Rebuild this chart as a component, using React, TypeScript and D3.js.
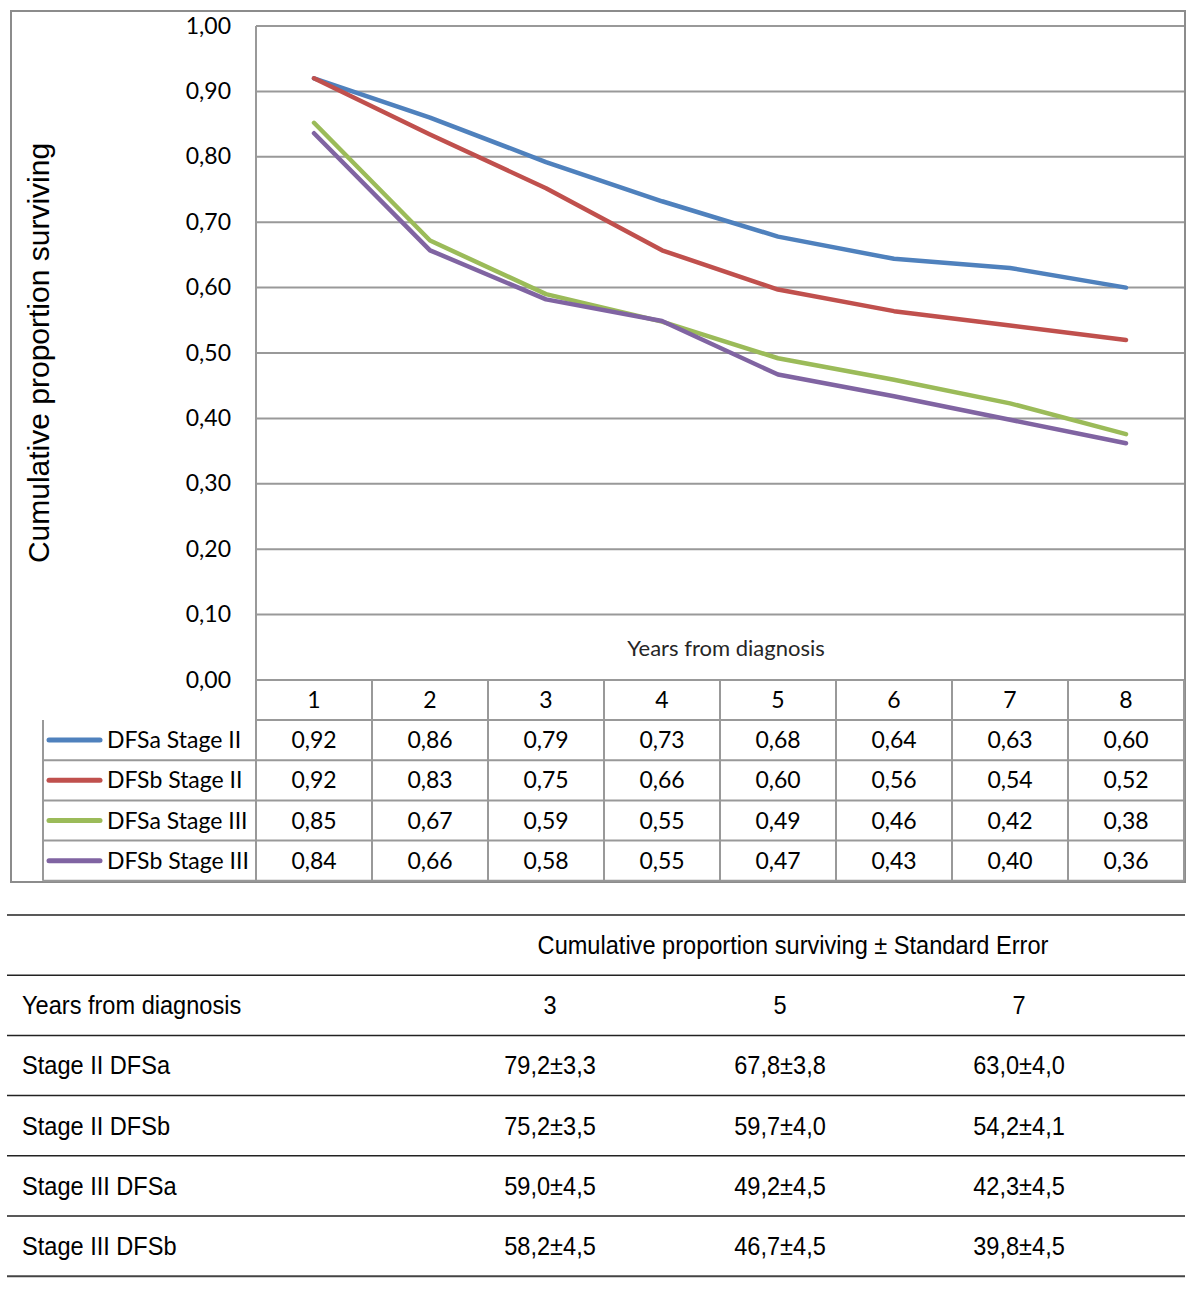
import React from "react";
import * as d3 from "d3";

const years = [1, 2, 3, 4, 5, 6, 7, 8];
const seriesNames = ["DFSa Stage II", "DFSb Stage II", "DFSa Stage III", "DFSb Stage III"];
const seriesColors = ["#4F81BD", "#C0504D", "#9BBB59", "#8064A2"];
const dfsaStage2 = [0.92, 0.86, 0.792, 0.732, 0.678, 0.644, 0.63, 0.6];
const dfsbStage2 = [0.92, 0.834, 0.752, 0.657, 0.597, 0.564, 0.542, 0.52];
const dfsaStage3 = [0.852, 0.672, 0.59, 0.548, 0.492, 0.459, 0.423, 0.376];
const dfsbStage3 = [0.836, 0.657, 0.582, 0.549, 0.467, 0.434, 0.398, 0.362];
const seriesValues = [dfsaStage2, dfsbStage2, dfsaStage3, dfsbStage3];
const yTicks = [0, 0.1, 0.2, 0.3, 0.4, 0.5, 0.6, 0.7, 0.8, 0.9, 1.0];

const seTitle = "Cumulative proportion surviving ± Standard Error";
const seYears = [3, 5, 7];
const seRowLabels = ["Stage II DFSa", "Stage II DFSb", "Stage III DFSa", "Stage III DFSb"];
const seMeans = [
  [79.2, 67.8, 63.0],
  [75.2, 59.7, 54.2],
  [59.0, 49.2, 42.3],
  [58.2, 46.7, 39.8],
];
const seErrors = [
  [3.3, 3.8, 4.0],
  [3.5, 4.0, 4.1],
  [4.5, 4.5, 4.5],
  [4.5, 4.5, 4.5],
];

const comma = (s: string) => s.replace(".", ",");
const f2 = (v: number) => comma(d3.format(".2f")(v));
const f1 = (v: number) => comma(d3.format(".1f")(v));

const chartFont = "Lato, 'Open Sans', sans-serif";
const tableFont = "'Liberation Sans', Arial, sans-serif";
const gridColor = "#999999";
const narrow = 0.925;

function NarrowText(props: { x: number; y: number; anchor?: string; children: React.ReactNode }) {
  return (
    <text
      transform={`translate(${props.x},${props.y}) scale(${narrow},1)`}
      dy="0.35em"
      textAnchor={props.anchor || "start"}
      fontFamily={tableFont}
      fontSize={25.5}
      fill="#000"
    >
      {props.children}
    </text>
  );
}

export default function App() {
  const plotLeft = 256;
  const plotRight = 1184;
  const plotTop = 26;
  const plotBottom = 680;
  const y = d3.scaleLinear().domain([0, 1]).range([plotBottom, plotTop]);
  const x = d3.scaleBand<number>().domain(years).range([plotLeft, plotRight]);
  const cx = (d: number) => (x(d) as number) + x.bandwidth() / 2;
  const line = d3
    .line<number>()
    .x((_, i) => cx(years[i]))
    .y((v) => y(v));

  const rowH = 40.2;
  const headerBottom = 720;
  const legendLeft = 43;
  const rowY = (i: number) => headerBottom + i * rowH;

  // lower table
  const tTop = 915;
  const tRow = 60.2;
  const tLeft = 7;
  const tRight = 1185;
  const colPositions = [550, 780, 1019];

  return (
    <svg width={1200} height={1298} style={{ position: "absolute", left: 0, top: 0, background: "#fff" }}>
      <rect x={0} y={0} width={1200} height={1298} fill="#fff" />
      {/* outer chart frame */}
      <rect x={11} y={11} width={1174} height={871} fill="none" stroke="#8c8c8c" strokeWidth={2} />

      {/* gridlines */}
      {yTicks.map((t) => (
        <line key={t} x1={plotLeft} x2={plotRight} y1={y(t)} y2={y(t)} stroke={gridColor} strokeWidth={2} />
      ))}
      <line x1={plotLeft} x2={plotLeft} y1={plotTop} y2={plotBottom} stroke={gridColor} strokeWidth={2} />
      {yTicks.map((t) => (
        <text
          key={"l" + t}
          x={231}
          y={y(t)}
          dy="0.33em"
          textAnchor="end"
          fontFamily={chartFont}
          fontSize={23}
          fill="#000"
        >
          {f2(t)}
        </text>
      ))}
      <text
        transform={`translate(49,${353}) rotate(-90)`}
        textAnchor="middle"
        fontFamily="'Liberation Sans', Arial, sans-serif"
        fontSize={30}
        fill="#000"
      >
        Cumulative proportion surviving
      </text>
      <text x={726} y={656} textAnchor="middle" fontFamily={chartFont} fontSize={22} fill="#262626">
        Years from diagnosis
      </text>

      {/* series lines */}
      {seriesValues.map((vals, i) => (
        <path
          key={seriesNames[i]}
          d={line(vals) as string}
          fill="none"
          stroke={seriesColors[i]}
          strokeWidth={4.5}
          strokeLinejoin="round"
          strokeLinecap="round"
        />
      ))}

      {/* data table */}
      {years.map((yr) => (
        <text key={"h" + yr} x={cx(yr)} y={700} dy="0.35em" textAnchor="middle" fontFamily={chartFont} fontSize={23}>
          {yr}
        </text>
      ))}
      {[0, 1, 2, 3, 4].map((i) => (
        <line
          key={"hr" + i}
          x1={i === 0 ? plotLeft : legendLeft}
          x2={plotRight}
          y1={rowY(i)}
          y2={rowY(i)}
          stroke={gridColor}
          strokeWidth={2}
        />
      ))}
      <line x1={legendLeft} x2={legendLeft} y1={headerBottom} y2={rowY(4)} stroke={gridColor} strokeWidth={2} />
      {years.concat([9]).map((yr, i) => {
        const xx = i < years.length ? (x(yr) as number) : plotRight;
        return (
          <line key={"v" + i} x1={xx} x2={xx} y1={plotBottom} y2={rowY(4)} stroke={gridColor} strokeWidth={2} />
        );
      })}
      {seriesValues.map((vals, i) => (
        <g key={"row" + i}>
          <line
            x1={49}
            x2={100}
            y1={rowY(i) + rowH / 2}
            y2={rowY(i) + rowH / 2}
            stroke={seriesColors[i]}
            strokeWidth={5}
            strokeLinecap="round"
          />
          <text x={107} y={rowY(i) + rowH / 2} dy="0.35em" fontFamily={chartFont} fontSize={23}>
            {seriesNames[i]}
          </text>
          {vals.map((v, j) => (
            <text
              key={j}
              x={cx(years[j])}
              y={rowY(i) + rowH / 2}
              dy="0.35em"
              textAnchor="middle"
              fontFamily={chartFont}
              fontSize={23}
            >
              {f2(v)}
            </text>
          ))}
        </g>
      ))}

      {/* lower table */}
      {[0, 1, 2, 3, 4, 5, 6].map((i) => (
        <line
          key={"t" + i}
          x1={tLeft}
          x2={tRight}
          y1={tTop + i * tRow}
          y2={tTop + i * tRow}
          stroke={i === 6 ? "#444" : "#222"}
          strokeWidth={i === 6 ? 2 : 1.5}
        />
      ))}
      <NarrowText x={793} y={tTop + tRow / 2} anchor="middle">
        {seTitle}
      </NarrowText>
      <NarrowText x={22} y={tTop + tRow * 1.5}>
        Years from diagnosis
      </NarrowText>
      {seYears.map((yr, j) => (
        <NarrowText key={"sy" + yr} x={colPositions[j]} y={tTop + tRow * 1.5} anchor="middle">
          {yr}
        </NarrowText>
      ))}
      {seRowLabels.map((lab, i) => (
        <g key={lab}>
          <NarrowText x={22} y={tTop + tRow * (2.5 + i)}>
            {lab}
          </NarrowText>
          {seMeans[i].map((m, j) => (
            <NarrowText key={j} x={colPositions[j]} y={tTop + tRow * (2.5 + i)} anchor="middle">
              {f1(m)}±{f1(seErrors[i][j])}
            </NarrowText>
          ))}
        </g>
      ))}
    </svg>
  );
}
